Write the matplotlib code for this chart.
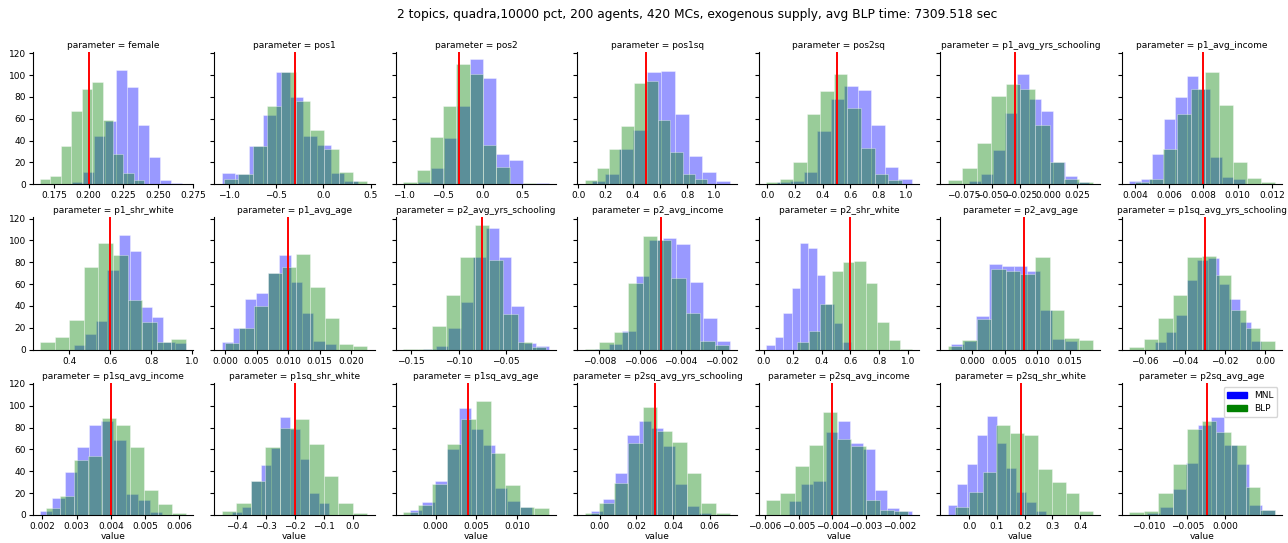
import numpy as np
import matplotlib.pyplot as plt
from matplotlib.patches import Patch

# parameter names, one facet each (7 columns x 3 rows)
params = ['female', 'pos1', 'pos2', 'pos1sq', 'pos2sq', 'p1_avg_yrs_schooling', 'p1_avg_income',
          'p1_shr_white', 'p1_avg_age', 'p2_avg_yrs_schooling', 'p2_avg_income', 'p2_shr_white',
          'p2_avg_age', 'p1sq_avg_yrs_schooling', 'p1sq_avg_income', 'p1sq_shr_white', 'p1sq_avg_age',
          'p2sq_avg_yrs_schooling', 'p2sq_avg_income', 'p2sq_shr_white', 'p2sq_avg_age']

# true parameter values (red lines)
true_values = [0.2, -0.3, -0.3, 0.5, 0.5, -0.03, 0.008,
               0.6, 0.01, -0.0756, -0.005, 0.6, 0.008, -0.03,
               0.004, -0.2, 0.004, 0.03, -0.004, 0.188, -0.0024]

# x tick positions for each facet
x_ticks = [[0.175, 0.2, 0.225, 0.25, 0.275], [-1.0, -0.5, 0.0, 0.5], [-1.0, -0.5, 0.0, 0.5],
           [0.0, 0.2, 0.4, 0.6, 0.8, 1.0], [0.0, 0.2, 0.4, 0.6, 0.8, 1.0],
           [-0.075, -0.05, -0.025, 0.0, 0.025], [0.004, 0.006, 0.008, 0.01, 0.012],
           [0.4, 0.6, 0.8, 1.0], [0.0, 0.005, 0.01, 0.015, 0.02], [-0.15, -0.1, -0.05],
           [-0.008, -0.006, -0.004, -0.002], [0.0, 0.2, 0.4, 0.6, 0.8, 1.0],
           [0.0, 0.005, 0.01, 0.015], [-0.06, -0.04, -0.02, 0.0],
           [0.002, 0.003, 0.004, 0.005, 0.006], [-0.4, -0.3, -0.2, -0.1, 0.0],
           [0.0, 0.005, 0.01], [0.0, 0.02, 0.04, 0.06],
           [-0.006, -0.005, -0.004, -0.003, -0.002], [0.0, 0.1, 0.2, 0.3, 0.4],
           [-0.01, -0.005, 0.0]]

# MNL estimates: histogram range (min, max) and counts in 10 bins
mnl_range = [(0.1883, 0.2668), (-1.078, 0.365), (-0.818, 0.835), (0.098, 1.115), (0.070, 1.041),
             (-0.0703, 0.0356), (0.00367, 0.01041),
             (0.423, 0.969), (-0.00053, 0.01766), (-0.1371, -0.00495), (-0.0082, -0.00159),
             (0.0167, 0.602), (-0.00324, 0.01619), (-0.055, -0.002),
             (0.00194, 0.0055), (-0.4174, -0.0837), (-0.003125, 0.01183), (-0.00455, 0.0609),
             (-0.00529, -0.00165), (-0.0771, 0.2759), (-0.01022, 0.00646)]
mnl_counts = [
    [2, 11, 44, 58, 105, 89, 54, 25, 4, 1],
    [10, 9, 35, 63, 103, 80, 44, 36, 10, 3],
    [2, 15, 42, 72, 115, 97, 28, 22, 0, 1],
    [3, 9, 32, 50, 103, 104, 64, 26, 11, 3],
    [2, 3, 11, 49, 78, 90, 86, 54, 16, 5],
    [3, 9, 31, 65, 101, 78, 67, 20, 8, 2],
    [3, 5, 28, 60, 80, 99, 87, 25, 7, 5],
    [4, 14, 26, 73, 105, 90, 39, 30, 7, 6],
    [7, 20, 46, 52, 70, 87, 62, 34, 8, 5],
    [1, 3, 20, 44, 85, 111, 85, 40, 6, 3],
    [1, 5, 17, 67, 100, 102, 97, 62, 29, 8],
    [4, 12, 34, 56, 98, 93, 68, 42, 24, 7],
    [5, 8, 31, 78, 77, 77, 72, 36, 10, 8],
    [7, 16, 32, 64, 82, 84, 60, 46, 25, 8],
    [4, 16, 39, 62, 82, 86, 69, 19, 14, 3],
    [3, 7, 31, 46, 61, 90, 79, 51, 20, 11],
    [5, 12, 31, 60, 98, 79, 64, 25, 13, 7],
    [4, 15, 38, 73, 86, 80, 63, 28, 8, 2],
    [13, 28, 31, 76, 86, 66, 60, 23, 6, 4],
    [9, 28, 47, 73, 91, 66, 43, 21, 12, 4],
    [2, 7, 24, 48, 82, 90, 64, 47, 9, 5],
]

# BLP estimates: histogram range (min, max) and counts in 10 bins
blp_range = [(0.165, 0.240), (-1.053, 0.465), (-1.004, 0.678), (0.048, 0.946), (-0.007, 0.969),
             (-0.0891, 0.0394), (0.0040, 0.01216),
             (0.259, 0.969), (0.0, 0.02255), (-0.1583, -0.00742), (-0.00872, -0.00164),
             (0.232, 1.024), (-0.00375, 0.0186), (-0.0678, 0.0047),
             (0.00212, 0.00619), (-0.4535, 0.05), (-0.0040, 0.01392), (-0.0082, 0.0713),
             (-0.00596, -0.00175), (-0.0506, 0.447), (-0.01262, 0.00646)]
blp_counts = [
    [5, 8, 35, 67, 87, 94, 59, 28, 10, 4],
    [5, 9, 35, 72, 103, 76, 50, 32, 11, 3],
    [2, 13, 43, 72, 110, 101, 36, 16, 0, 1],
    [4, 15, 32, 53, 93, 95, 59, 30, 9, 5],
    [2, 5, 20, 64, 85, 101, 70, 33, 9, 4],
    [4, 15, 38, 81, 92, 87, 54, 20, 5, 2],
    [2, 5, 32, 64, 87, 103, 73, 20, 6, 2],
    [7, 12, 27, 76, 98, 87, 45, 25, 7, 10],
    [6, 20, 40, 70, 76, 88, 57, 29, 5, 3],
    [1, 1, 22, 50, 85, 114, 82, 33, 7, 2],
    [1, 7, 16, 61, 104, 100, 66, 34, 8, 4],
    [7, 17, 42, 72, 80, 81, 61, 25, 9, 1],
    [3, 9, 28, 74, 72, 69, 85, 36, 11, 9],
    [2, 10, 29, 50, 85, 86, 68, 36, 20, 8],
    [6, 17, 50, 54, 89, 82, 62, 23, 10, 2],
    [4, 11, 31, 62, 80, 88, 65, 36, 11, 2],
    [3, 9, 28, 65, 88, 104, 57, 27, 7, 6],
    [2, 11, 29, 66, 99, 77, 67, 38, 11, 2],
    [14, 20, 45, 64, 94, 70, 63, 14, 5, 4],
    [7, 21, 39, 82, 75, 73, 42, 30, 20, 4],
    [3, 4, 20, 47, 79, 86, 76, 64, 26, 5],
]

title = ('2 topics, quadra,10000 pct, 200 agents, 420 MCs, exogenous supply, '
         'avg BLP time: 7309.518 sec')

plt.rcParams['font.size'] = 6.5
plt.rcParams['axes.titlesize'] = 6.5

fig, axes = plt.subplots(3, 7, figsize=(12.88, 5.43), dpi=100, sharey=True)
fig.subplots_adjust(left=0.0256, right=0.9953, top=0.904, bottom=0.0516,
                    wspace=0.134, hspace=0.251)

for i, ax in enumerate(axes.flat):
    # MNL first, BLP on top of it
    for rng, counts, color in ((mnl_range[i], mnl_counts[i], 'blue'),
                               (blp_range[i], blp_counts[i], 'green')):
        edges = np.linspace(rng[0], rng[1], len(counts) + 1)
        ax.hist(edges[:-1], bins=edges, weights=counts, color=color, alpha=0.4,
                edgecolor='white', linewidth=0.6)
    ax.axvline(true_values[i], color='red', linewidth=1.4)
    ax.set_xticks(x_ticks[i])
    ax.set_title(f'parameter = {params[i]}', pad=3)
    ax.spines[['top', 'right']].set_visible(False)
    ax.tick_params(length=3, pad=2)
    if i >= 14:
        ax.set_xlabel('value', labelpad=1)

axes[0, 0].set_ylim(0, 121)
axes[0, 0].set_yticks([0, 20, 40, 60, 80, 100, 120])

axes[2, 6].legend(handles=[Patch(color='blue', label='MNL'), Patch(color='green', label='BLP')],
                  loc='upper right', fontsize=6.5, handlelength=2.2)

fig.suptitle(title, x=0.541, y=0.985, fontsize=8.8)
fig.savefig('out.png', dpi=100)
